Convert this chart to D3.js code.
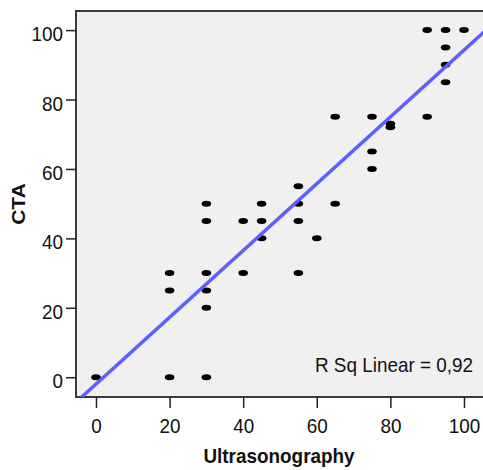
<!DOCTYPE html>
<html lang="en">
<head>
  <meta charset="utf-8">
  <title>CTA vs Ultrasonography</title>
  <script src="https://cdn.jsdelivr.net/npm/d3@7"></script>
  <style>
    body {
      margin: 0;
      background: #fff;
      font-family: Arial, "Liberation Sans", sans-serif;
    }

    .axis path {
      display: none;
    }

    .axis line {
      stroke: #222;
      stroke-width: 1.5;
    }

    .axis text {
      font-size: 21px;
      fill: #111;
    }
  </style>
</head>
<body>
<script>
  // Ultrasonography (x) vs CTA (y)
  var usg = [0, 20, 20, 20, 30, 30, 30, 30, 30, 30, 40, 40, 45, 45, 45, 55, 55, 55, 55,
    60, 65, 65, 75, 75, 75, 80, 80, 90, 90, 95, 95, 95, 95, 100];
  var cta = [0, 30, 25, 0, 50, 45, 30, 25, 20, 0, 45, 30, 50, 45, 40, 55, 50, 45, 30,
    40, 75, 50, 75, 65, 60, 73, 72, 100, 75, 100, 95, 90, 85, 100];
  var xTicks = [0, 20, 40, 60, 80, 100];
  var yTicks = [0, 20, 40, 60, 80, 100];
  var rsqLabel = "R Sq Linear = 0,92";

  var W = 483, H = 470;
  var pLeft = 76, pTop = 11, pRight = 486, pBottom = 397;
  var sx = 0.9; // glyphs in the picture are a bit narrow

  var x = d3.scaleLinear().domain([-5.43, 105.98]).range([pLeft, pRight]);
  var y = d3.scaleLinear().domain([-5.7, 105.5]).range([pBottom, pTop]);

  var svg = d3.select("body").append("svg")
    .attr("width", W)
    .attr("height", H);

  svg.append("defs").append("clipPath")
    .attr("id", "plotclip")
    .append("rect")
    .attr("x", pLeft).attr("y", pTop)
    .attr("width", pRight - pLeft).attr("height", pBottom - pTop);

  // plot background + frame
  svg.append("rect")
    .attr("x", pLeft).attr("y", pTop)
    .attr("width", pRight - pLeft).attr("height", pBottom - pTop)
    .attr("fill", "#f0f0f0")
    .attr("stroke", "#3a3a3a")
    .attr("stroke-width", 2);

  // points
  var pts = usg.map(function(d, i) { return { x: d, y: cta[i] }; });
  svg.append("g")
    .attr("clip-path", "url(#plotclip)")
    .selectAll("ellipse")
    .data(pts)
    .enter().append("ellipse")
    .attr("cx", function(d) { return x(d.x); })
    .attr("cy", function(d) { return y(d.y); })
    .attr("rx", 4.8)
    .attr("ry", 3)
    .attr("fill", "#000");

  // least squares fit
  var mx = d3.mean(usg), my = d3.mean(cta);
  var sxy = d3.sum(usg, function(d, i) { return (d - mx) * (cta[i] - my); });
  var sxx = d3.sum(usg, function(d) { return (d - mx) * (d - mx); });
  var slope = sxy / sxx, icpt = my - slope * mx;
  var xd = x.domain();

  svg.append("g")
    .attr("clip-path", "url(#plotclip)")
    .append("line")
    .attr("x1", x(xd[0])).attr("y1", y(icpt + slope * xd[0]))
    .attr("x2", x(xd[1])).attr("y2", y(icpt + slope * xd[1]))
    .attr("stroke", "#5f5fff")
    .attr("stroke-width", 3.5);

  // axes
  var gx = svg.append("g")
    .attr("class", "axis")
    .attr("transform", "translate(0," + pBottom + ")")
    .call(d3.axisBottom(x).tickValues(xTicks).tickSize(11).tickSizeOuter(0));
  gx.selectAll("text")
    .attr("y", 21)
    .attr("dy", "0.71em")
    .attr("transform", "scale(" + sx + ",1)");

  var gy = svg.append("g")
    .attr("class", "axis")
    .attr("transform", "translate(" + pLeft + ",0)")
    .call(d3.axisLeft(y).tickValues(yTicks).tickSize(10).tickSizeOuter(0));
  gy.selectAll("text")
    .attr("x", -13 / sx)
    .attr("dy", "0.5em")
    .attr("transform", "scale(" + sx + ",1)");

  // R square label
  svg.append("text")
    .attr("transform", "translate(473,372) scale(" + sx + ",1)")
    .attr("text-anchor", "end")
    .style("font-size", "21px")
    .attr("fill", "#111")
    .text(rsqLabel);

  // axis titles
  svg.append("text")
    .attr("transform", "translate(279,463) scale(" + sx + ",1)")
    .attr("text-anchor", "middle")
    .style("font-size", "21px")
    .style("font-weight", "bold")
    .attr("fill", "#111")
    .text("Ultrasonography");

  svg.append("text")
    .attr("transform", "translate(25,204) rotate(-90) scale(1," + sx + ")")
    .attr("text-anchor", "middle")
    .style("font-size", "21px")
    .style("font-weight", "bold")
    .attr("fill", "#111")
    .text("CTA");
</script>
</body>
</html>
